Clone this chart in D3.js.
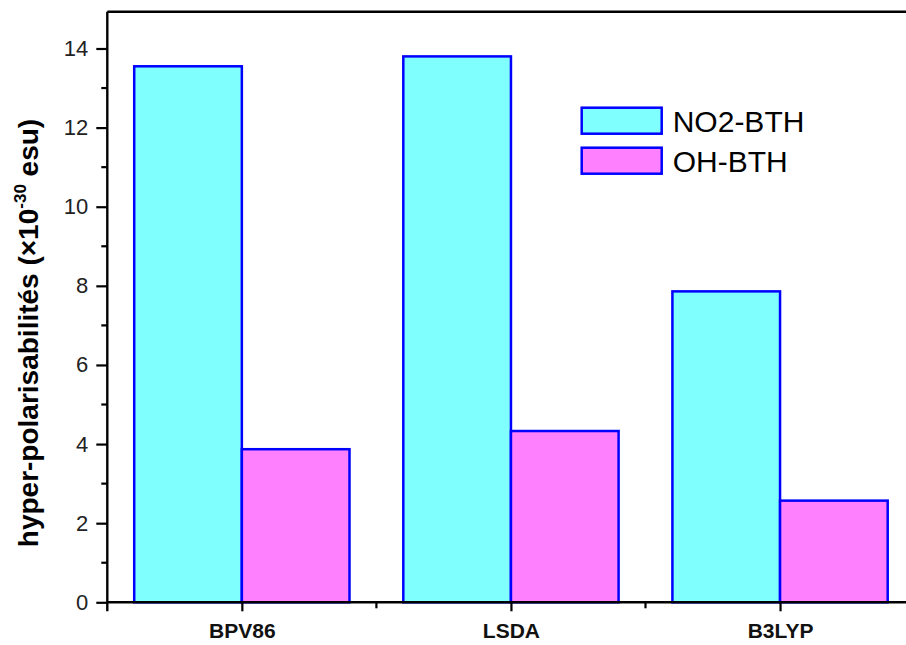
<!DOCTYPE html>
<html>
<head>
<meta charset="utf-8">
<script src="https://cdn.jsdelivr.net/npm/d3@7"></script>
<style>
  html, body { margin: 0; padding: 0; background: #fff; }
  svg { display: block; font-family: Arial, "Liberation Sans", sans-serif; }
</style>
</head>
<body>
<svg id="chart" width="906" height="645"></svg>
<script>
// Methods compared and first hyperpolarisability per molecule (×10^-30 esu)
const methods = ["BPV86", "LSDA", "B3LYP"];
const seriesNames = ["NO2-BTH", "OH-BTH"];
const no2Values = [13.55, 13.80, 7.86];
const ohValues = [3.87, 4.33, 2.57];
const yTicks = [0, 2, 4, 6, 8, 10, 12, 14];
const yMinorTicks = [1, 3, 5, 7, 9, 11, 13];
const yDomain = [0, 14.93];

const fills = ["#80FFFF", "#FF80FF"];
const edge = "#0000FF";

const svg = d3.select("#chart");
const plotLeft = 107.3, plotRight = 914.6, plotTop = 11.7, plotBottom = 602.3;

const x = d3.scaleBand().domain(methods).range([plotLeft, plotRight])
  .paddingInner(0.2).paddingOuter(0.1);
const xs = d3.scaleBand().domain(seriesNames).range([0, x.bandwidth()]);
const y = d3.scaleLinear().domain(yDomain).range([plotBottom, plotTop]);

const rows = methods.map((m, i) => ({ method: m, values: [no2Values[i], ohValues[i]] }));

// Bars
const groups = svg.append("g").selectAll("g").data(rows).join("g")
  .attr("transform", d => `translate(${x(d.method)},0)`);
groups.selectAll("rect")
  .data(d => d.values.map((v, k) => ({ series: seriesNames[k], k, v })))
  .join("rect")
  .attr("x", d => xs(d.series))
  .attr("width", xs.bandwidth())
  .attr("y", d => y(d.v))
  .attr("height", d => y(0) - y(d.v))
  .attr("fill", d => fills[d.k])
  .attr("stroke", edge)
  .attr("stroke-width", 2.5);

// Y axis with major and minor ticks
const yAxis = svg.append("g").attr("transform", `translate(${plotLeft},0)`)
  .call(d3.axisLeft(y).tickValues(yTicks).tickSize(11).tickPadding(8).tickFormat(d3.format("d")));
yAxis.select(".domain").remove();
yAxis.selectAll(".tick line").attr("stroke", "#000").attr("stroke-width", 2.2);
yAxis.selectAll(".tick text").attr("font-size", 22).attr("fill", "#222");
svg.append("g").selectAll("line").data(yMinorTicks).join("line")
  .attr("x1", plotLeft - 6).attr("x2", plotLeft)
  .attr("y1", d => y(d)).attr("y2", d => y(d))
  .attr("stroke", "#000").attr("stroke-width", 2.2);

// X axis: major ticks at method centres, minor ticks between groups
const centre = m => x(m) + x.bandwidth() / 2;
const xAxis = svg.append("g").attr("transform", `translate(0,${plotBottom})`)
  .call(d3.axisBottom(d3.scalePoint().domain(methods).range([centre(methods[0]), centre(methods[2])]))
    .tickSize(9).tickPadding(12));
xAxis.select(".domain").remove();
xAxis.selectAll(".tick line").attr("stroke", "#000").attr("stroke-width", 2.2);
xAxis.selectAll(".tick text").attr("font-size", 21).attr("font-weight", "bold").attr("fill", "#111");
const step = x.step();
svg.append("g").selectAll("line").data(methods.slice(1)).join("line")
  .attr("x1", d => centre(d) - step / 2).attr("x2", d => centre(d) - step / 2)
  .attr("y1", plotBottom).attr("y2", plotBottom + 6)
  .attr("stroke", "#000").attr("stroke-width", 2.2);

// Frame: left axis, bottom axis, top border
svg.append("line").attr("x1", plotLeft).attr("x2", plotLeft).attr("y1", plotTop).attr("y2", plotBottom + 9)
  .attr("stroke", "#000").attr("stroke-width", 2.4);
svg.append("line").attr("x1", plotLeft).attr("x2", plotRight).attr("y1", plotBottom).attr("y2", plotBottom)
  .attr("stroke", "#000").attr("stroke-width", 2.4);
svg.append("line").attr("x1", plotLeft).attr("x2", plotRight).attr("y1", plotTop).attr("y2", plotTop)
  .attr("stroke", "#000").attr("stroke-width", 2.4);

// Y axis title
const yTitle = svg.append("text")
  .attr("transform", `translate(38,${(113 + 553) / 2}) rotate(-90)`)
  .attr("text-anchor", "middle")
  .attr("font-size", 28).attr("font-weight", "bold").attr("fill", "#000");
yTitle.append("tspan").text("hyper-polarisabilités (×10");
yTitle.append("tspan").attr("font-size", 17).attr("dy", -12).text("-30");
yTitle.append("tspan").attr("dy", 12).text(" esu)");

// Legend
const legend = svg.append("g").selectAll("g").data(seriesNames).join("g")
  .attr("transform", (d, i) => `translate(581.7,${107.7 + i * 40})`);
legend.append("rect")
  .attr("width", 80).attr("height", 26)
  .attr("fill", (d, i) => fills[i]).attr("stroke", edge).attr("stroke-width", 2.5);
legend.append("text")
  .attr("x", 91).attr("y", 24.5)
  .attr("font-size", 30).attr("fill", "#000")
  .text(d => d);
</script>
</body>
</html>
